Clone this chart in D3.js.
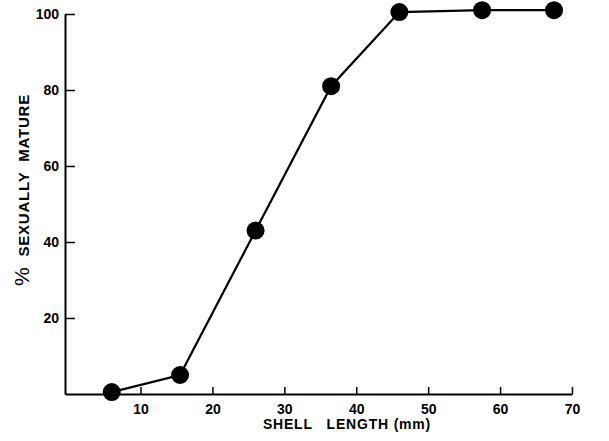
<!DOCTYPE html>
<html>
<head>
<meta charset="utf-8">
<script src="https://cdn.jsdelivr.net/npm/d3@7"></script>
<style>
html,body{margin:0;padding:0;background:#fff;}
svg{display:block;}
text{font-family:"Liberation Sans",Arial,Helvetica,sans-serif;font-weight:bold;fill:#000;}
</style>
</head>
<body>
<svg id="chart" width="609" height="441"></svg>
<script>
const shellLength = [6, 15.5, 26, 36.5, 46, 57.5, 67.5];
const pctMature   = [0.5, 5, 43, 81, 100.5, 101, 101];
const xTicks = [10, 20, 30, 40, 50, 60, 70];
const yTicks = [20, 40, 60, 80, 100];
const xTitle = "SHELL   LENGTH (mm)";
const yTitle = "SEXUALLY  MATURE";

const svg = d3.select("#chart");
const x = d3.scaleLinear().domain([-0.5, 70]).range([65, 572]);
const y = d3.scaleLinear().domain([0, 100]).range([394, 14]);

// X axis
const xAxis = svg.append("g").attr("transform", `translate(0,${y(0)})`)
  .call(d3.axisBottom(x).tickValues(xTicks).tickSizeInner(-7).tickSizeOuter(0).tickPadding(10).tickFormat(d3.format("d")));
xAxis.select(".domain").attr("stroke", "#000").attr("stroke-width", 2);
xAxis.selectAll(".tick line").attr("stroke", "#000").attr("stroke-width", 1.5);
xAxis.selectAll(".tick text").attr("font-size", 14).attr("font-family", "Liberation Sans, Arial, sans-serif").attr("font-weight", "bold").attr("fill", "#000");

// Y axis
const yAxis = svg.append("g").attr("transform", `translate(${x(-0.5)},0)`)
  .call(d3.axisLeft(y).tickValues(yTicks).tickSizeInner(-10).tickSizeOuter(0).tickPadding(6).tickFormat(d3.format("d")));
yAxis.select(".domain").attr("stroke", "#000").attr("stroke-width", 2);
yAxis.selectAll(".tick line").attr("stroke", "#000").attr("stroke-width", 1.5);
yAxis.selectAll(".tick text").attr("font-size", 14).attr("font-family", "Liberation Sans, Arial, sans-serif").attr("font-weight", "bold").attr("fill", "#000");

// Line
const pts = shellLength.map((v, i) => [v, pctMature[i]]);
svg.append("path").datum(pts)
  .attr("fill", "none").attr("stroke", "#000").attr("stroke-width", 2.2)
  .attr("d", d3.line().x(d => x(d[0])).y(d => y(d[1])));

svg.selectAll("circle.pt").data(pts).enter().append("circle")
  .attr("class", "pt")
  .attr("cx", d => x(d[0])).attr("cy", d => y(d[1])).attr("r", 9).attr("fill", "#000");

// Titles
svg.append("text").attr("x", 347).attr("y", 429).attr("text-anchor", "middle")
  .attr("font-size", 14).attr("letter-spacing", 0.8).style("white-space", "pre").text(xTitle);

const yl = svg.append("text").attr("transform", "translate(29,190) rotate(-90)").attr("text-anchor", "middle")
  .attr("font-size", 15).attr("letter-spacing", 0.8).style("white-space", "pre");
yl.append("tspan").attr("font-size", 21).attr("font-weight", "normal").text("%");
yl.append("tspan").text("  " + yTitle);
</script>
</body>
</html>
